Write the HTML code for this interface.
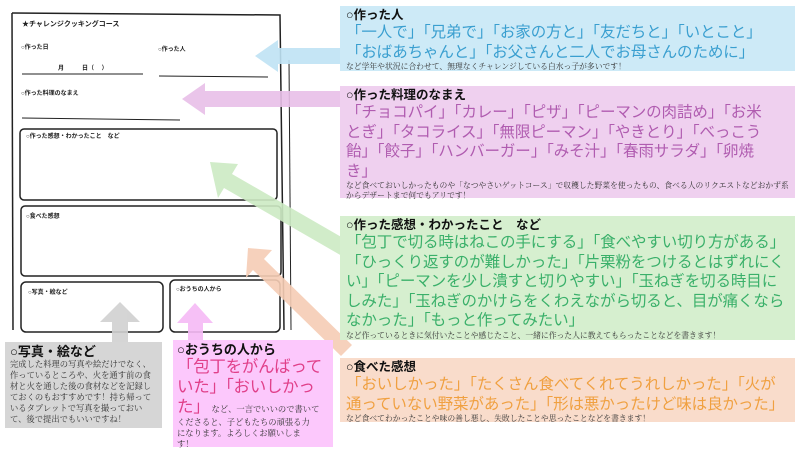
<!DOCTYPE html>
<html><head><meta charset="utf-8"><style>
body{margin:0;width:800px;height:450px;background:#fff;position:relative;overflow:hidden;font-family:"Liberation Sans","Noto Sans CJK JP",sans-serif}
.b{position:absolute;box-sizing:border-box;padding:2px 6px}
.t{font-size:12.5px;font-weight:bold;color:#111;line-height:15px}
.big{font-size:15.5px;line-height:19.5px;letter-spacing:-0.1px;white-space:nowrap}
.s{font-family:"Noto Serif CJK SC","Liberation Serif",serif;font-size:7.8px;line-height:10px;color:#333}
</style></head><body>
<svg width="800" height="450" style="position:absolute;left:0;top:0">
<g fill="none" stroke="#222" stroke-width="1.5">
<path d="M12 13 L280 15 L284 330"/><path d="M12 13 L13 330"/>
<path d="M289 60 L291 330" stroke-width="1"/>
<rect x="20" y="129" width="257" height="71" rx="4"/>
<rect x="21" y="206" width="260" height="70" rx="4"/>
<rect x="21" y="282" width="142" height="50" rx="5"/>
<rect x="170" y="280" width="110" height="52" rx="5"/>
<path d="M22 74 L143 74 M159 76 L268 77 M22 118 L180 120" stroke-width="1"/>
</g>
<g font-size="6" font-weight="bold" fill="#222">
<text x="22" y="26" font-size="7">★チャレンジクッキングコース</text>
<text x="21" y="49">○作った日</text><text x="158" y="51">○作った人</text>
<text x="58" y="70">月　　　日（　 ）</text>
<text x="21" y="95">○作った料理のなまえ</text>
<text x="26" y="138">○作った感想・わかったこと　など</text>
<text x="26" y="218">○食べた感想</text>
<text x="28" y="294">○写真・絵など</text>
<text x="176" y="291">○おうちの人から</text>
</g>
<g opacity="0.9">
<polygon points="255,56 278,40 278,48 345,48 345,64 278,64 278,72" fill="#bfe3f5"/>
<polygon points="182,99 205,83 205,91 345,91 345,107 205,107 205,115" fill="#e8bfe8"/>
<polygon points="210,162 238,164 232,174 350,242 342,256 224,188 218,198" fill="#cdebc4"/>
<polygon points="248,248 272,250 264,259 352,345 341,356 253,270 246,278" fill="#f6cdb5"/>
<polygon points="120,302 140,322 128,322 128,342 112,342 112,322 100,322" fill="#d0d0d0"/>
<polygon points="195,303 213,323 203,323 203,342 188,342 188,323 177,323" fill="#f6baf6"/>
</g>
</svg>
<div class="b" style="left:340px;top:6px;width:455px;height:65px;background:#cdeaf7">
<div class="t">○作った人</div>
<div class="big" style="color:#3a9fd0">「一人で」「兄弟で」「お家の方と」「友だちと」「いとこと」<br>「おばあちゃんと」「お父さんと二人でお母さんのために」</div>
<div class="s">など学年や状況に合わせて、無理なくチャレンジしている白水っ子が多いです！</div></div>
<div class="b" style="left:340px;top:86px;width:455px;height:112px;background:#efd0ef">
<div class="t">○作った料理のなまえ</div>
<div class="big" style="color:#b05cb0">「チョコパイ」「カレー」「ピザ」「ピーマンの肉詰め」「お米<br>とぎ」「タコライス」「無限ピーマン」「やきとり」「べっこう<br>飴」「餃子」「ハンバーガー」「みそ汁」「春雨サラダ」「卵焼<br>き」</div>
<div class="s">など食べておいしかったものや「なつやさいゲットコース」で収穫した野菜を使ったもの、食べる人のリクエストなどおかず系からデザートまで何でもアリです！</div></div>
<div class="b" style="left:340px;top:216px;width:455px;height:124px;background:#d6efcf">
<div class="t">○作った感想・わかったこと　など</div>
<div class="big" style="color:#3ab06a">「包丁で切る時はねこの手にする」「食べやすい切り方がある」<br>「ひっくり返すのが難しかった」「片栗粉をつけるとはずれにく<br>い」「ピーマンを少し潰すと切りやすい」「玉ねぎを切る時目に<br>しみた」「玉ねぎのかけらをくわえながら切ると、目が痛くなら<br>なかった」「もっと作ってみたい」</div>
<div class="s">など作っているときに気付いたことや感じたこと、一緒に作った人に教えてもらったことなどを書きます！</div></div>
<div class="b" style="left:340px;top:358px;width:455px;height:64px;background:#f9dccb">
<div class="t">○食べた感想</div>
<div class="big" style="color:#f0a040">「おいしかった」「たくさん食べてくれてうれしかった」「火が<br>通っていない野菜があった」「形は悪かったけど味は良かった」</div>
<div class="s">など食べてわかったことや味の善し悪し、失敗したことや思ったことなどを書きます！</div></div>
<div class="b" style="left:5px;top:342px;width:157px;height:86px;background:#d6d6d6;padding:2px 5px">
<div class="t" style="font-size:13px">○写真・絵など</div>
<div class="s" style="font-size:8.3px;line-height:11px">完成した料理の写真や絵だけでなく、作っているところや、火を通す前の食材と火を通した後の食材などを記録しておくのもおすすめです！持ち帰っているタブレットで写真を撮っておいて、後で提出でもいいですね！</div></div>
<div class="b" style="left:173px;top:340px;width:160px;height:107px;background:#fcc8fc;padding:2px 4px">
<div class="t" style="font-size:13px">○おうちの人から</div>
<div style="font-size:8.3px;line-height:11px;color:#333;font-family:'Noto Serif CJK SC',serif;white-space:nowrap"><span style="font-family:'Liberation Sans','Noto Sans CJK JP',sans-serif;font-size:16.5px;line-height:20px;letter-spacing:-0.3px;color:#e0408a">「包丁をがんばって<br>いた」「おいしかっ<br>た」</span> など、一言でいいので書いて<br>くださると、子どもたちの頑張る力<br>になります。よろしくお願いしま<br>す！</div></div>
</body></html>
